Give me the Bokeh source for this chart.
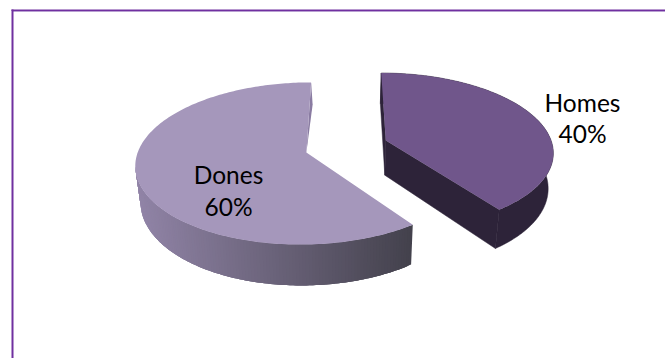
import numpy as np
from bokeh.embed import file_html
from bokeh.models import ColumnDataSource, Range1d
from bokeh.plotting import figure
from bokeh.resources import INLINE
from bokeh.core.properties import value

# Pie shares
labels = ["Homes", "Dones"]
shares = [40, 60]

# Colours
top_colors = ["#70568B", "#A597BB"]
homes_side = "#2D2339"
dones_side_left = np.array([0x92, 0x85, 0xA8])
dones_side_right = np.array([0x44, 0x42, 0x4D])
frame_dark = "#7030A0"
frame_light = "#B9A0D2"

# Projection of the tilted, exploded pie onto the page
CX, CY = 346.0, 146.0
RX, RY = 167.0, 78.0
PERSP = 0.133
EXPLODE = 0.25
DEPTH = 35.0
BASE_SHRINK = 0.025


def project(X, Y, z=0.0):
    w = 1 + PERSP * Y
    return CX + RX * X / w * (1 - BASE_SHRINK * z), CY - RY * Y / w + z * DEPTH / w


def wedge_points(a0, a1, n=220):
    mid = (a0 + a1) / 2
    ox, oy = EXPLODE * np.sin(mid), EXPLODE * np.cos(mid)
    t = np.linspace(a0, a1, n)
    return ox + np.sin(t), oy + np.cos(t), ox, oy


p = figure(width=665, height=358, x_range=Range1d(0, 665), y_range=Range1d(358, 0),
           output_backend="svg", toolbar_location=None, min_border=0)
p.axis.visible = False
p.grid.visible = False
p.outline_line_color = None
p.background_fill_color = "white"
p.border_fill_color = "white"

# Frame: only the top and left rules are present
p.rect(x=[338.5], y=[11], width=[653], height=[1], fill_color=frame_light, line_color=None)
p.rect(x=[338], y=[9.75], width=[654], height=[1.5], fill_color=frame_dark, line_color=None)
p.rect(x=[12], y=[183.5], width=[2], height=[349], fill_color=frame_dark, line_color=None)

fractions = np.array(shares) / sum(shares)
homes_end = 2 * np.pi * fractions[0]

# Homes: outer wall and cut faces, then the top surface
X, Y, ox, oy = wedge_points(0, homes_end)
ax, ay = project(ox, oy)
ax_low, ay_low = project(ox, oy, 1)
sx, sy = project(X, Y)
lx, ly = project(X, Y, 1)
side_style = dict(fill_color=homes_side, line_color=homes_side, line_width=0.5)
p.patch(np.r_[sx, lx[::-1]], np.r_[sy, ly[::-1]], **side_style)
p.patch([sx[0], ax, ax_low, lx[0]], [sy[0], ay, ay_low, ly[0]], **side_style)
p.patch([sx[-1], ax, ax_low, lx[-1]], [sy[-1], ay, ay_low, ly[-1]], **side_style)
p.patch(np.r_[ax, sx], np.r_[ay, sy], fill_color=top_colors[0], line_color=None)

# Dones: shaded outer wall, painted as overlapping strips so no seams show
X, Y, ox, oy = wedge_points(homes_end, 2 * np.pi)
ax, ay = project(ox, oy)
sx, sy = project(X, Y)
lx, ly = project(X, Y, 1)
left = int(np.argmin(sx))
xs, ys, cols = [], [], []
for i in range(0, left):
    # paint from the dark end towards the light end; each strip covers the next seam
    j = min(i + 3, left)
    f = (sx[i] - sx[left]) / (sx[0] - sx[left])
    c = dones_side_left + (dones_side_right - dones_side_left) * f
    cols.append("#%02x%02x%02x" % tuple(int(v) for v in c))
    xs.append(np.r_[sx[i:j + 1], lx[i:j + 1][::-1]].tolist())
    ys.append(np.r_[sy[i:j + 1], ly[i:j + 1][::-1]].tolist())
p.patches("xs", "ys", fill_color="c", line_color=None,
          source=ColumnDataSource(dict(xs=xs, ys=ys, c=cols)))
# Sliver of the inner cut face along the far radius
p.patch([sx[-1], sx[-1] + 1.5, ax], [sy[-1], sy[-1] + 22, ay], fill_color="#8A7CA2", line_color=None)
p.patch(np.r_[ax, sx], np.r_[ay, sy], fill_color=top_colors[1], line_color=None)

# Labels
font = value("Lato")
name_pos = [(582, 102), (228, 174)]
share_pos = [(582, 133), (228, 206)]
for (tx, ty), text in zip(name_pos, labels):
    p.text([tx], [ty], text=[text], text_font=font, text_font_size="24.5px", text_align="center",
           text_baseline="middle", text_color="black")
for (tx, ty), share in zip(share_pos, shares):
    p.text([tx], [ty], text=[f"{share}%"], text_font=font, text_font_size="24.5px", text_align="center",
           text_baseline="middle", text_color="black")

open("out.html", "w").write(file_html(p, INLINE))
